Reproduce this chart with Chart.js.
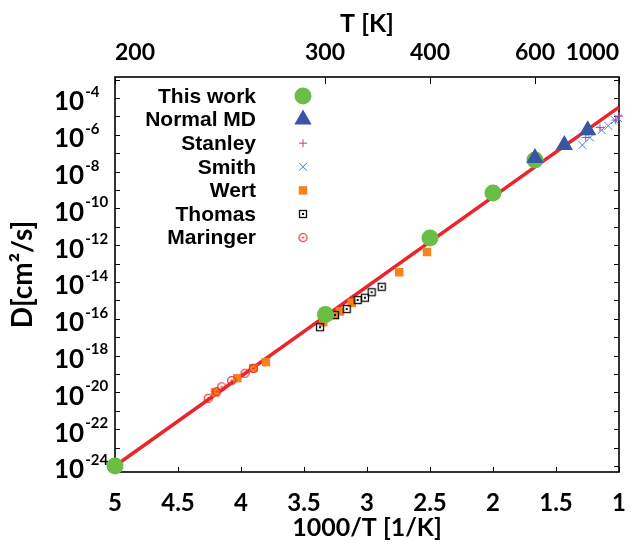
<!DOCTYPE html>
<html>
<head>
<meta charset="utf-8">
<script src="https://cdn.jsdelivr.net/npm/chart.js@4.4.1/dist/chart.umd.min.js"></script>
<style>
  html, body { margin: 0; background: #fff; }
  #wrap { width: 637px; height: 550px; }
</style>
</head>
<body>
<div id="wrap"><canvas id="chart"></canvas></div>
<script>
// ===== Data (x = 1000/T [1/K], y = D [cm^2/s]) =====
const thisWorkX = [5.0, 3.33, 2.5, 2.0, 1.667];
const thisWorkD = [1.0e-24, 1.74e-16, 2.5e-12, 6.9e-10, 4.3e-8];

const normalMdX = [1.667, 1.434, 1.248];
const normalMdD = [5.5e-8, 2.8e-7, 1.8e-6];

const stanleyX = [1.264, 1.151, 1.026, 1.0];
const stanleyD = [7.2e-7, 2.5e-6, 6.3e-6, 1.05e-5];

const smithX = [1.291, 1.230, 1.137, 1.085, 1.032, 1.006];
const smithD = [2.8e-7, 7.2e-7, 1.8e-6, 3.1e-6, 6.3e-6, 7.9e-6];

const wertX = [4.206, 4.029, 3.902, 3.802, 3.347, 3.254, 3.214, 3.121, 2.744, 2.524];
const wertD = [1.0e-20, 5.9e-20, 2.1e-19, 4.4e-19, 6.5e-17, 1.6e-16, 2.5e-16, 7.4e-16, 3.4e-14, 4.3e-13];

const thomasX = [3.373, 3.254, 3.161, 3.074, 3.016, 2.963, 2.883];
const thomasD = [3.5e-17, 1.6e-16, 3.4e-16, 1.05e-15, 1.4e-15, 2.8e-15, 5.5e-15];

const maringerX = [4.260, 4.193, 4.153, 4.074, 3.968, 3.902];
const maringerD = [4.8e-21, 1.1e-20, 2.0e-20, 4.4e-20, 1.1e-19, 2.0e-19];

// Arrhenius fit line
const fitX = [5.0, 1.0];
const fitD = [1.0e-24, 3.2e-5];

// Axes
const xTickValues = [5, 4.5, 4, 3.5, 3, 2.5, 2, 1.5, 1];
const topTempTicks = [1000, 600, 400, 300, 200];
const yLabelPowers = [-4, -6, -8, -10, -12, -14, -16, -18, -20, -22, -24];
const yMinorPowers = [-3, -4, -5, -6, -7, -8, -9, -10, -11, -12, -13, -14, -15, -16, -17, -18, -19, -20, -21, -22, -23, -24];
const yMin = 4.7e-25;
const yMax = 1.4e-3;

const legendNames = ["This work", "Normal MD", "Stanley", "Smith", "Wert", "Thomas", "Maringer"];

// ===== Helpers =====
const pts = (xs, ys) => xs.map((x, i) => ({ x, y: ys[i] }));

function squareDot() {
  const c = document.createElement("canvas");
  c.width = 10; c.height = 10;
  const g = c.getContext("2d");
  g.strokeStyle = "#111"; g.lineWidth = 1.3;
  g.strokeRect(1.5, 1.5, 7, 7);
  g.fillStyle = "#111";
  g.fillRect(4, 4, 2, 2);
  return c;
}

function circleDot() {
  const c = document.createElement("canvas");
  c.width = 11; c.height = 11;
  const g = c.getContext("2d");
  g.strokeStyle = "#e8262b"; g.lineWidth = 1.2;
  g.beginPath(); g.arc(5.5, 5.5, 4, 0, Math.PI * 2); g.stroke();
  g.fillStyle = "#e8262b";
  g.beginPath(); g.arc(5.5, 5.5, 1.1, 0, Math.PI * 2); g.fill();
  return c;
}

const thomasImg = squareDot();
const maringerImg = circleDot();

// marker style per legend entry
const markers = [
  { pointStyle: "circle", radius: 8.5, fill: "#6abd45", stroke: "#6abd45", borderWidth: 0 },
  { pointStyle: "triangle", radius: 10, fill: "#3a55a4", stroke: "#3a55a4", borderWidth: 0 },
  { pointStyle: "cross", radius: 4, fill: "#b8479b", stroke: "#b8479b", borderWidth: 1 },
  { pointStyle: "crossRot", radius: 5.5, fill: "#3f7fd8", stroke: "#3f7fd8", borderWidth: 1 },
  { pointStyle: "rect", radius: 6, fill: "#f7821f", stroke: "#f7821f", borderWidth: 0 },
  { pointStyle: thomasImg, radius: 5, fill: "#111", stroke: "#111", borderWidth: 0 },
  { pointStyle: maringerImg, radius: 5, fill: "#e8262b", stroke: "#e8262b", borderWidth: 0 }
];

function markerDataset(idx, data) {
  const m = markers[idx];
  return {
    label: legendNames[idx],
    data,
    pointStyle: m.pointStyle,
    pointRadius: m.radius,
    pointHoverRadius: m.radius,
    backgroundColor: m.fill,
    borderColor: m.stroke,
    pointBorderWidth: m.borderWidth,
    showLine: false,
    clip: false
  };
}

// ===== Plugin: frame, inward ticks, y labels, legend =====
const decor = {
  id: "decor",
  beforeDatasetsDraw(chart) {
    const { ctx, chartArea: a, scales } = chart;
    ctx.save();
    ctx.strokeStyle = "#000";
    ctx.lineWidth = 1;
    ctx.beginPath();
    xTickValues.forEach(v => {
      const px = Math.round(scales.x.getPixelForValue(v)) + 0.5;
      ctx.moveTo(px, a.bottom); ctx.lineTo(px, a.bottom - 5);
    });
    topTempTicks.forEach(t => {
      const px = Math.round(scales.x.getPixelForValue(1000 / t)) + 0.5;
      ctx.moveTo(px, a.top); ctx.lineTo(px, a.top + 7);
    });
    yMinorPowers.forEach(p => {
      const py = Math.round(scales.y.getPixelForValue(Math.pow(10, p))) + 0.5;
      ctx.moveTo(a.left, py); ctx.lineTo(a.left + 5, py);
      ctx.moveTo(a.right, py); ctx.lineTo(a.right - 5, py);
    });
    ctx.stroke();
    ctx.lineWidth = 1.6;
    ctx.strokeRect(a.left, a.top, a.right - a.left, a.bottom - a.top);
    ctx.restore();
  },
  afterDraw(chart) {
    const { ctx, scales } = chart;
    ctx.save();
    // y tick labels 10^n
    ctx.fillStyle = "#000";
    ctx.textBaseline = "middle";
    ctx.textAlign = "left";
    yLabelPowers.forEach(p => {
      const py = scales.y.getPixelForValue(Math.pow(10, p));
      ctx.font = "bold 26px Lato";
      ctx.fillText("10", 54, py + 4);
      const w = ctx.measureText("10").width;
      ctx.font = "bold 15px Lato";
      ctx.fillText("-" + Math.abs(p), 54 + w + 1, py - 6);
    });
    // legend: right-aligned text, marker after it
    legendNames.forEach((name, i) => {
      const y = 96 + i * 23.6;
      ctx.font = "bold 21px 'Liberation Sans'";
      ctx.textAlign = "right";
      ctx.fillStyle = "#000";
      ctx.fillText(name, 256, y + 1);
      const m = markers[i];
      ctx.fillStyle = m.fill;
      ctx.strokeStyle = m.stroke;
      ctx.lineWidth = m.borderWidth;
      Chart.helpers.drawPoint(ctx, { pointStyle: m.pointStyle, radius: m.radius, borderWidth: m.borderWidth, rotation: 0 }, 303, y);
    });
    ctx.restore();
  }
};

// ===== Chart =====
const bottomFont = { family: "Lato", weight: "bold", size: 24 };
const topFont = { family: "Lato", weight: "bold", size: 23 };
const titleFont = { family: "Lato", weight: "bold", size: 25 };

new Chart(document.getElementById("chart"), {
  type: "scatter",
  data: {
    datasets: [
      markerDataset(1, pts(normalMdX, normalMdD)),
      markerDataset(0, pts(thisWorkX, thisWorkD)),
      markerDataset(2, pts(stanleyX, stanleyD)),
      markerDataset(3, pts(smithX, smithD)),
      markerDataset(5, pts(thomasX, thomasD)),
      markerDataset(6, pts(maringerX, maringerD)),
      markerDataset(4, pts(wertX, wertD)),
      {
        label: "fit",
        data: pts(fitX, fitD),
        showLine: true,
        borderColor: "#e8262b",
        borderWidth: 3.5,
        pointRadius: 0,
        clip: false
      }
    ]
  },
  options: {
    responsive: true,
    maintainAspectRatio: false,
    animation: false,
    events: [],
    layout: { padding: { left: 0, right: 18, top: 0, bottom: 0 } },
    plugins: { legend: { display: false }, tooltip: { enabled: false } },
    scales: {
      x: {
        type: "linear",
        position: "bottom",
        reverse: true,
        min: 1,
        max: 5,
        grid: { display: false },
        border: { display: false },
        afterBuildTicks: (s) => { s.ticks = xTickValues.map(v => ({ value: v })); },
        afterFit: (s) => { s.height = 78; },
        ticks: { color: "#000", font: bottomFont, padding: 9, maxRotation: 0, autoSkip: false, callback: (v) => String(v) },
        title: { display: true, text: "1000/T [1/K]", color: "#000", font: titleFont, padding: { top: 0, bottom: 7 } }
      },
      x2: {
        type: "linear",
        position: "top",
        reverse: true,
        min: 1,
        max: 5,
        grid: { display: false },
        border: { display: false },
        afterBuildTicks: (s) => { s.ticks = topTempTicks.map(t => ({ value: 1000 / t })); },
        afterFit: (s) => { s.height = 77; },
        ticks: { color: "#000", font: topFont, padding: 3, maxRotation: 0, autoSkip: false, align: "inner",
                 callback: (v, i) => String(topTempTicks[i]) },
        title: { display: true, text: "T [K]", color: "#000", font: titleFont, padding: { top: 9, bottom: 0 } }
      },
      y: {
        type: "logarithmic",
        position: "left",
        min: yMin,
        max: yMax,
        grid: { display: false },
        border: { display: false },
        ticks: { display: false },
        afterFit: (s) => { s.width = 115; },
        title: { display: true, text: "D[cm²/s]", color: "#000", font: { family: "Lato", weight: "bold", size: 28 }, padding: { top: 6, bottom: 0 } }
      }
    }
  },
  plugins: [decor]
});
</script>
</body>
</html>
